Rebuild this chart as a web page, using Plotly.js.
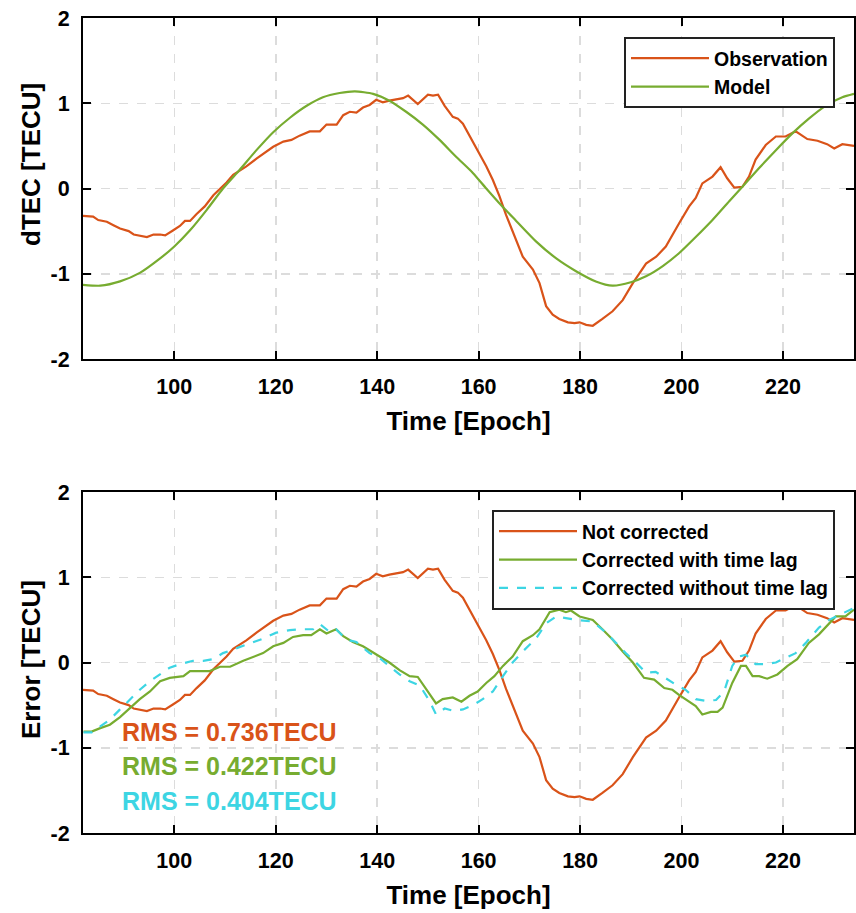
<!DOCTYPE html>
<html>
<head>
<meta charset="utf-8">
<script src="https://cdn.plot.ly/plotly-3.0.1.min.js"></script>
<style>
html,body{margin:0;padding:0;background:#fff;}
#chart{width:856px;height:913px;}
</style>
</head>
<body>
<div id="chart"></div>
<script>
// ---- Data ----
// Observed dTEC (also the "Not corrected" error series)
var obsEpoch = [82,84,85,86.7,88,89.3,91,92,94.6,95.9,97.2,98.2,99.8,101.1,102.1,103.1,104.4,106,107.7,109,110.3,111.6,112.9,114.2,116.2,118.2,119.5,121.5,123.1,124.7,126.7,128.7,130,132,133.3,134.6,135.9,137.2,138.5,139.8,141.1,142.4,143.8,145.1,146.1,148,150,151,152,153.3,154.9,155.9,156.9,158.2,159.8,161.5,162.8,164.1,165.4,167.1,168.7,170.7,172,173.3,174.6,175.9,177.6,178.9,179.9,181.2,182.5,184.4,186.4,188.4,190.4,193,195,196.9,198.2,199.5,201.5,202.8,204.1,206.1,207.7,209,210.4,212,213.3,214.6,216.6,218.6,220.5,222.5,224.8,226.8,228.7,230.1,231.7,234];
var obsValue = [-0.32,-0.33,-0.37,-0.39,-0.43,-0.47,-0.50,-0.54,-0.57,-0.54,-0.54,-0.55,-0.49,-0.44,-0.38,-0.38,-0.30,-0.21,-0.08,-0.01,0.07,0.16,0.21,0.26,0.35,0.44,0.49,0.55,0.57,0.62,0.67,0.67,0.75,0.75,0.86,0.90,0.89,0.95,0.98,1.04,1.01,1.03,1.05,1.06,1.09,0.99,1.10,1.09,1.10,0.97,0.84,0.82,0.76,0.62,0.45,0.26,0.10,-0.09,-0.31,-0.56,-0.80,-0.95,-1.11,-1.38,-1.48,-1.53,-1.57,-1.58,-1.57,-1.60,-1.61,-1.53,-1.44,-1.31,-1.11,-0.88,-0.80,-0.68,-0.54,-0.41,-0.21,-0.11,0.06,0.14,0.25,0.12,0.01,0.02,0.14,0.34,0.51,0.61,0.61,0.67,0.58,0.56,0.52,0.47,0.52,0.50];

// Model dTEC
var modelEpoch = [82,85.4,89.3,93.2,97.2,100,103.1,106.4,109.6,112.9,116.2,119.5,122.8,126.1,129.3,132.6,135.6,139.2,142.4,145.7,149,152.3,155.6,158.9,161.5,164.5,167.4,171.3,175.3,179.2,183.1,186.4,190,193,196.3,199.5,202.8,206.1,209.4,212,215.3,218.6,221.9,225.1,228.4,231.7,234];
var modelValue = [-1.13,-1.14,-1.09,-0.99,-0.82,-0.68,-0.49,-0.25,0.00,0.22,0.45,0.66,0.83,0.97,1.07,1.12,1.14,1.11,1.03,0.90,0.75,0.57,0.37,0.18,0.00,-0.20,-0.38,-0.62,-0.82,-0.97,-1.09,-1.14,-1.10,-1.03,-0.91,-0.76,-0.57,-0.37,-0.15,0.02,0.24,0.45,0.65,0.82,0.97,1.07,1.11];

// Error corrected with time lag
var lagEpoch = [82.1,83.7,85.4,87.3,89.3,91.3,93.2,95.2,97.2,99.1,101.8,103.1,105.1,107,109,111,113.6,115.6,117.5,119.5,121.5,123.4,125.4,127,128.7,130,131.9,133.3,135.2,137.2,138.5,140.5,142.4,144.4,146.4,148,149.7,151.6,152.9,154.9,156.6,158.2,159.8,161.5,163.1,164.8,166.7,168.7,170.7,172,174,175.9,177.2,178.2,179.9,182.5,184.4,186.4,188.4,190.4,192.6,194.6,196.6,198.2,199.5,201.5,202.8,204.1,205.8,207.1,208.1,210,211.7,212.7,214,215.3,216.9,218.9,220.9,222.8,225.1,227.1,229.1,230.4,232.3,234];
var lagValue = [-0.81,-0.81,-0.77,-0.73,-0.64,-0.53,-0.43,-0.34,-0.22,-0.18,-0.16,-0.10,-0.10,-0.10,-0.05,-0.05,0.02,0.07,0.11,0.19,0.23,0.30,0.32,0.32,0.39,0.34,0.39,0.31,0.24,0.19,0.14,0.07,0.00,-0.09,-0.16,-0.17,-0.32,-0.48,-0.43,-0.41,-0.46,-0.39,-0.34,-0.24,-0.16,-0.04,0.07,0.25,0.32,0.39,0.59,0.62,0.59,0.61,0.54,0.50,0.39,0.27,0.13,0.00,-0.18,-0.20,-0.30,-0.32,-0.38,-0.46,-0.51,-0.61,-0.58,-0.58,-0.53,-0.24,-0.04,-0.04,-0.16,-0.16,-0.19,-0.14,-0.04,0.04,0.23,0.33,0.46,0.54,0.54,0.62];

// Error corrected without time lag
var noLagEpoch = [82.1,83.7,85.4,87.3,89.3,91.3,93.2,95.2,97.2,99.1,101.1,103.7,105.7,107.7,109.6,112.3,114.9,117.5,120.1,122.8,125.4,127.4,128.7,130.6,131.9,133.9,135.9,138.5,140.5,142.4,144.4,146.4,148.4,150.3,151.6,153.3,155.2,156.9,158.9,160.8,162.8,164.8,166.7,168.7,171.3,173.3,175.3,177.2,179.2,182.5,185.1,187.1,189,191,193,194.9,196.9,198.9,200.8,202.8,204.8,206.8,208.4,210,211.3,212.7,214.6,216.6,218.6,220.5,222.5,224.5,227.1,229.1,231.2,234];
var noLagValue = [-0.82,-0.82,-0.75,-0.67,-0.55,-0.43,-0.32,-0.22,-0.14,-0.06,-0.02,0.02,0.02,0.04,0.11,0.17,0.23,0.28,0.35,0.38,0.39,0.39,0.45,0.36,0.39,0.27,0.24,0.11,0.05,-0.04,-0.14,-0.22,-0.27,-0.45,-0.61,-0.54,-0.57,-0.55,-0.50,-0.43,-0.34,-0.16,0.00,0.13,0.28,0.46,0.54,0.52,0.50,0.48,0.35,0.23,0.11,0.00,-0.12,-0.11,-0.19,-0.26,-0.32,-0.43,-0.45,-0.44,-0.34,-0.04,0.07,0.09,-0.02,-0.02,0.00,0.05,0.11,0.23,0.41,0.50,0.56,0.64];

var xTicks = [100,120,140,160,180,200,220];
var yTicks = [-2,-1,0,1,2];
var rmsLabels = ['RMS = 0.736TECU','RMS = 0.422TECU','RMS = 0.404TECU'];
var yTitles = ['dTEC [TECU]','Error [TECU]'];

// ---- Styling ----
var ORANGE = '#D95319', GREEN = '#77AC30', CYAN = '#3DD5E3';
var FONT = 'Liberation Sans, Arial, Helvetica, sans-serif';

function xaxisDef(anchor){
  return {
    domain:[83/856, 854/856], anchor:anchor, range:[82,234],
    tickmode:'array', tickvals:xTicks, ticktext:xTicks.map(String),
    ticks:'inside', ticklen:8, tickwidth:2, tickcolor:'#000',
    showline:true, linecolor:'#000', linewidth:2, mirror:'allticks',
    showgrid:true, gridcolor:'#dcdcdc', gridwidth:1.5, griddash:'dash',
    zeroline:false, automargin:false, ticklabelstandoff:7,
    tickfont:{family:FONT, size:21.5, color:'#000', weight:'bold'},
    title:{text:'Time [Epoch]', font:{family:FONT, size:26, color:'#000', weight:'bold'}, standoff:14}
  };
}
function yaxisDef(anchor, domain){
  return {
    domain:domain, anchor:anchor, range:[-2,2],
    tickmode:'array', tickvals:yTicks, ticktext:yTicks.map(String),
    ticks:'inside', ticklen:8, tickwidth:2, tickcolor:'#000',
    showline:true, linecolor:'#000', linewidth:2, mirror:'allticks',
    showgrid:true, gridcolor:'#dcdcdc', gridwidth:1.5, griddash:'dash',
    zeroline:false, automargin:false, ticklabelstandoff:7,
    tickfont:{family:FONT, size:21.5, color:'#000', weight:'bold'}
  };
}

var traces = [
  {x:obsEpoch, y:obsValue, type:'scatter', mode:'lines', name:'Observation',
   line:{color:ORANGE, width:2.2}, xaxis:'x', yaxis:'y', legend:'legend'},
  {x:modelEpoch, y:modelValue, type:'scatter', mode:'lines', name:'Model',
   line:{color:GREEN, width:2.2, shape:'spline', smoothing:0.6}, xaxis:'x', yaxis:'y', legend:'legend'},
  {x:obsEpoch, y:obsValue, type:'scatter', mode:'lines', name:'Not corrected',
   line:{color:ORANGE, width:2.2}, xaxis:'x2', yaxis:'y2', legend:'legend2'},
  {x:lagEpoch, y:lagValue, type:'scatter', mode:'lines', name:'Corrected with time lag',
   line:{color:GREEN, width:2.2}, xaxis:'x2', yaxis:'y2', legend:'legend2'},
  {x:noLagEpoch, y:noLagValue, type:'scatter', mode:'lines', name:'Corrected without time lag',
   line:{color:CYAN, width:2.2, dash:'dash'}, xaxis:'x2', yaxis:'y2', legend:'legend2'}
];

var legendFont = {family:FONT, size:19.5, color:'#000', weight:'bold'};

var rmsAnn = [ORANGE, GREEN, CYAN].map(function(c, i){
  return {xref:'x2', yref:'y2', x:89.2, y:[-0.82,-1.21,-1.63][i], xanchor:'left', yanchor:'middle',
    text:rmsLabels[i], showarrow:false, font:{family:FONT, size:25, color:c, weight:'bold'}};
});
var titleAnn = yTitles.map(function(t, i){
  return {xref:'paper', yref:'paper', x:31/856, y:[1-165/913, 1-660/913][i], xanchor:'center', yanchor:'middle',
    textangle:-90, text:t, showarrow:false, font:{family:FONT, size:26, color:'#000', weight:'bold'}};
});

var layout = {
  width:856, height:913,
  margin:{l:0, r:0, t:0, b:0},
  paper_bgcolor:'#fff', plot_bgcolor:'#fff',
  showlegend:true,
  xaxis: xaxisDef('y'),
  yaxis: yaxisDef('x', [1-359/913, 1-18/913]),
  xaxis2: xaxisDef('y2'),
  yaxis2: yaxisDef('x2', [1-833/913, 1-492/913]),
  legend:{x:835/856, xanchor:'right', y:1-37/913, yanchor:'top',
    bgcolor:'#fff', bordercolor:'#222', borderwidth:2, font:legendFont,
    itemwidth:78, tracegroupgap:0},
  legend2:{x:835/856, xanchor:'right', y:1-510/913, yanchor:'top',
    bgcolor:'#fff', bordercolor:'#222', borderwidth:2, font:legendFont,
    itemwidth:78, tracegroupgap:0},
  annotations: rmsAnn.concat(titleAnn)
};

Plotly.newPlot('chart', traces, layout, {staticPlot:true, displayModeBar:false});
</script>
</body>
</html>
